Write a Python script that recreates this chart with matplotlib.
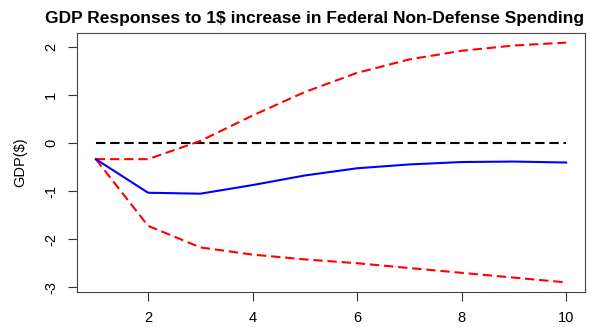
import matplotlib
matplotlib.use("Agg")
import matplotlib.pyplot as plt

plt.rcParams['font.family'] = ['Liberation Sans', 'DejaVu Sans']

horizon = [1, 2, 3, 4, 5, 6, 7, 8, 9, 10]
response = [-0.33, -1.03, -1.05, -0.87, -0.67, -0.52, -0.44, -0.39, -0.38, -0.40]
upper = [-0.33, -0.33, 0.05, 0.58, 1.07, 1.47, 1.75, 1.93, 2.04, 2.10]
lower = [-0.33, -1.72, -2.17, -2.32, -2.42, -2.50, -2.60, -2.70, -2.80, -2.90]
zero = [0] * len(horizon)

fig = plt.figure(figsize=(5.9, 3.27), dpi=100)
ax = fig.add_axes([0.1305, 0.107, 0.861, 0.792])

dash = (4.5, 2.3)
ax.plot(horizon, zero, color='black', lw=1.5, dashes=dash)
ax.plot(horizon, upper, color='red', lw=1.5, dashes=dash)
ax.plot(horizon, lower, color='red', lw=1.5, dashes=dash)
ax.plot(horizon, response, color='blue', lw=1.5)

ax.set_xlim(0.64, 10.36)
ax.set_ylim(-3.1, 2.3)
ax.set_xticks([2, 4, 6, 8, 10])
ax.set_yticks([-3, -2, -1, 0, 1, 2])
ax.set_yticklabels(['-3', '-2', '-1', '0', '1', '2'], rotation=90, va='center')
ax.tick_params(direction='out', length=6.5, width=0.8, labelsize=10.5,
               colors='#333333', labelcolor='black', pad=7)
for s in ax.spines.values():
    s.set_color('#444444')
    s.set_linewidth(0.8)

ax.set_ylabel('GDP($)', fontsize=10.5, labelpad=12)
fig.text(0.534, 0.930, 'GDP Responses to 1$ increase in Federal Non-Defense Spending',
         fontsize=12.5, fontweight='bold', ha='center', va='baseline')

fig.savefig('out.png', dpi=100)
